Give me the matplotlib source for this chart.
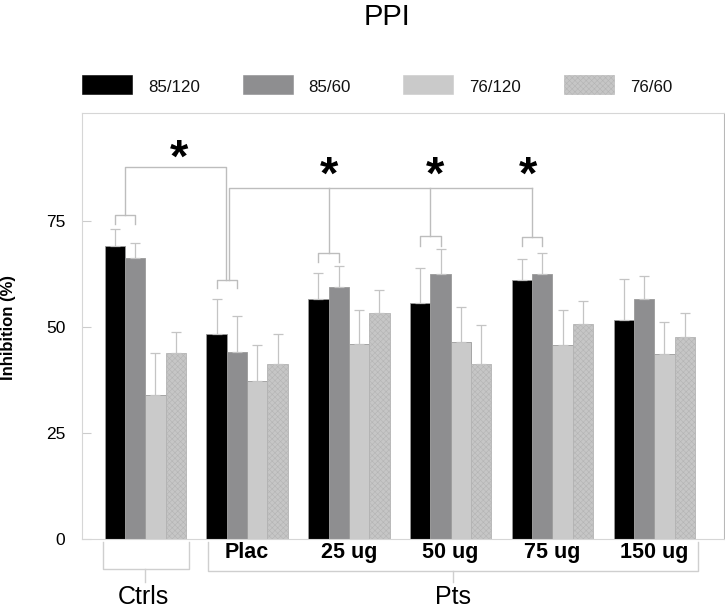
import matplotlib
matplotlib.use('Agg')
import matplotlib.pyplot as plt
import numpy as np
from matplotlib.patches import Rectangle

plt.rcParams['font.family'] = ['Liberation Sans', 'DejaVu Sans']
plt.rcParams['hatch.linewidth'] = 0.4

groups = ['Ctrls', 'Plac', '25 ug', '50 ug', '75 ug', '150 ug']
series = ['85/120', '85/60', '76/120', '76/60']

# mean inhibition (%) per group
m_85_120 = [69.0, 48.3, 56.5, 55.6, 61.0, 51.7]
m_85_60 = [66.3, 44.0, 59.4, 62.5, 62.5, 56.5]
m_76_120 = [34.0, 37.3, 46.0, 46.4, 45.7, 43.6]
m_76_60 = [43.8, 41.2, 53.2, 41.3, 50.8, 47.6]

# upper error bars
e_85_120 = [4.1, 8.2, 6.1, 8.3, 5.1, 9.5]
e_85_60 = [3.4, 8.5, 4.9, 5.8, 4.8, 5.6]
e_76_120 = [9.8, 8.4, 7.9, 8.2, 8.2, 7.6]
e_76_60 = [5.1, 7.1, 5.4, 9.1, 5.2, 5.6]

means = [m_85_120, m_85_60, m_76_120, m_76_60]
errs = [e_85_120, e_85_60, e_76_120, e_76_60]
colors = ['#000000', '#8e8e90', '#cacaca', '#c6c6c6']
hatches = [None, None, None, 'xxxxxx']

fig = plt.figure(figsize=(7.25, 6.1), dpi=100)
ax = fig.add_axes([0.1131, 0.1159, 0.8855, 0.6984])

x = np.arange(len(groups))
w = 0.2
for i in range(4):
    ax.bar(x + (i - 1.5) * w, means[i], width=w, color=colors[i],
           edgecolor='#9a9a9a', linewidth=0.6, hatch=hatches[i],
           yerr=[np.zeros(len(groups)), errs[i]],
           error_kw=dict(ecolor='#c4c4c4', elinewidth=0.9, capsize=3.6, capthick=0.9),
           zorder=2)
# hatch colour for the checkered series
for p in ax.patches:
    if p.get_hatch():
        p.set_edgecolor('#b4b4b4')

ax.set_xlim(-0.622, 5.685)
ax.set_ylim(0, 100.3)
ax.set_yticks([0, 25, 50, 75])
ax.set_xticks([])
ax.tick_params(axis='y', direction='in', length=6.5, color='#cccccc',
               labelsize=12.5, pad=12)
for s in ['left', 'top', 'bottom']:
    ax.spines[s].set_color('#d6d6d6')
ax.spines['right'].set_color('#b8b8b8')

lc = '#bdbdbd'
def bracket(x1, x2, y, leg):
    ax.plot([x1, x1, x2, x2], [y - leg, y, y, y - leg], color=lc, lw=1, zorder=3)

# significance brackets
bracket(-0.3, -0.1, 76.3, 2.1)
ax.plot([-0.2, -0.2, 0.793, 0.793], [76.3, 87.6, 87.6, 61.0], color=lc, lw=1)
bracket(0.7, 0.9, 61.0, 1.8)
ax.plot([0.823, 0.823, 3.8], [61.0, 82.6, 82.6], color=lc, lw=1)
bracket(1.7, 1.9, 67.4, 2.1)
ax.plot([1.8, 1.8], [82.6, 67.4], color=lc, lw=1)
bracket(2.7, 2.9, 71.3, 2.3)
ax.plot([2.8, 2.8], [82.6, 71.3], color=lc, lw=1)
bracket(3.7, 3.9, 71.1, 2.1)
ax.plot([3.8, 3.8], [82.6, 71.1], color=lc, lw=1)

for sx, sy in [(0.33, 89.4), (1.81, 85.3), (2.85, 85.3), (3.76, 85.3)]:
    ax.text(sx, sy, '*', ha='center', va='center', fontsize=34,
            fontweight='bold')

# group boxes below the axis
bc = '#cfcfcf'
ax.plot([-0.42, -0.42, 0.432, 0.432], [-0.56, -7.1, -7.1, -0.56], color=bc,
        lw=1, clip_on=False)
ax.plot([0, 0], [-7.1, -10.0], color=bc, lw=1, clip_on=False)
ax.plot([0.613, 0.613, 5.43, 5.43], [-0.56, -7.4, -7.4, -0.56], color=bc,
        lw=1, clip_on=False)
ax.plot([3.02, 3.02], [-7.4, -10.0], color=bc, lw=1, clip_on=False)

for i, g in enumerate(groups[1:], start=1):
    ax.text(i, -3.15, g, ha='center', va='center', fontsize=15.5,
            fontweight='bold')
ax.text(-0.02, -13.7, 'Ctrls', ha='center', va='center', fontsize=18)
ax.text(3.02, -13.7, 'Pts', ha='center', va='center', fontsize=18)

# legend drawn above the axes
W, H = 725.0, 610.0
for i, lab in enumerate(series):
    x0 = 82 + i * 160.7
    fig.patches.append(Rectangle((x0 / W, 1 - 94.3 / H), 50 / W, 19.3 / H,
                                 transform=fig.transFigure, facecolor=colors[i],
                                 edgecolor='#b4b4b4' if hatches[i] else colors[i],
                                 lw=0.4, hatch=hatches[i]))
    fig.text((x0 + 66) / W, 1 - 88 / H, lab, ha='left', va='center',
             fontsize=12.2, color='#111111')

fig.text(387 / W, 1 - 25 / H, 'PPI', ha='center', va='baseline', fontsize=21)
fig.text(9 / W, 1 - 327 / H, 'Inhibition (%)', ha='center', va='center',
         rotation=90, fontsize=12, fontweight='bold')

fig.savefig('out.png', dpi=100)
